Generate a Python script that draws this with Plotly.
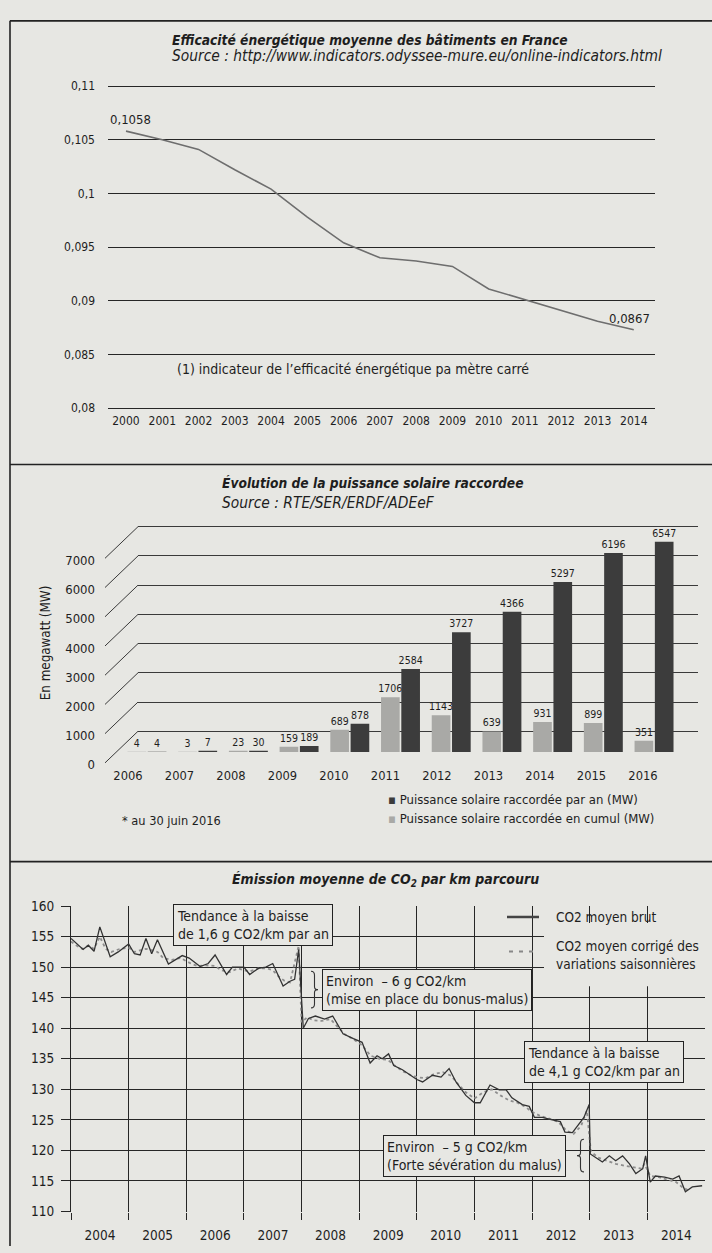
import plotly.graph_objects as go

W, H = 712, 1253
PAPER = '#e7e7e3'
INK = '#1e1e1e'
FONT = "Liberation Sans Narrow, Arial Narrow, DejaVu Sans Condensed, sans-serif"

# ---------------- data: panel 1 ----------------
eff_years = list(range(2000, 2015))
eff_values = [0.1058, 0.1050, 0.1041, 0.1022, 0.1004, 0.0978, 0.0954, 0.0940,
              0.0937, 0.0932, 0.0911, 0.0901, 0.0891, 0.0881, 0.0873]
eff_ticks = [0.08, 0.085, 0.09, 0.095, 0.1, 0.105, 0.11]
eff_ticktext = ['0,08', '0,085', '0,09', '0,095', '0,1', '0,105', '0,11']

# ---------------- data: panel 2 ----------------
solar_years = ['2006', '2007', '2008', '2009', '2010', '2011', '2012', '2013', '2014', '2015', '2016']
solar_annual = [4, 3, 23, 159, 689, 1706, 1143, 639, 931, 899, 351]
solar_cumul = [4, 7, 30, 189, 878, 2584, 3727, 4366, 5297, 6196, 6547]
solar_ticks = [0, 1000, 2000, 3000, 4000, 5000, 6000, 7000]

# ---------------- data: panel 3 ----------------
co2_brut_t = [2004.00, 2004.10, 2004.21, 2004.30, 2004.40, 2004.50, 2004.68, 2004.82, 2005.00, 2005.10,
              2005.20, 2005.30, 2005.40, 2005.50, 2005.69, 2005.93, 2006.05, 2006.24, 2006.38, 2006.50,
              2006.70, 2006.80, 2006.93, 2007.00, 2007.10, 2007.25, 2007.38, 2007.50, 2007.68, 2007.80,
              2007.88, 2007.95, 2008.03, 2008.12, 2008.24, 2008.40, 2008.54, 2008.72, 2008.90, 2009.05,
              2009.12, 2009.19, 2009.31, 2009.40, 2009.51, 2009.60, 2009.75, 2009.89, 2010.00, 2010.10,
              2010.27, 2010.42, 2010.56, 2010.68, 2010.85, 2011.00, 2011.10, 2011.27, 2011.43, 2011.55,
              2011.65, 2011.83, 2011.95, 2012.04, 2012.18, 2012.35, 2012.49, 2012.57, 2012.70, 2012.90,
              2012.99, 2013.01, 2013.10, 2013.22, 2013.34, 2013.45, 2013.57, 2013.69, 2013.80, 2013.92,
              2013.97, 2014.05, 2014.14, 2014.30, 2014.44, 2014.55, 2014.66, 2014.78, 2014.95]
co2_brut = [154.7, 153.8, 152.9, 153.6, 152.6, 156.6, 151.7, 152.5, 153.8, 152.2,
            152.0, 154.7, 152.2, 154.5, 150.5, 151.9, 151.5, 150.1, 150.6, 152.0,
            148.8, 150.0, 150.0, 150.0, 148.8, 149.8, 150.0, 150.6, 146.9, 147.7,
            148.0, 152.9, 140.0, 141.6, 142.0, 141.5, 142.0, 139.1, 138.3, 137.7,
            136.0, 134.3, 135.5, 135.0, 135.8, 133.9, 133.2, 132.3, 131.6, 131.2,
            132.3, 132.0, 133.4, 131.2, 129.0, 127.8, 127.8, 130.7, 129.9, 129.9,
            128.6, 127.5, 127.2, 125.4, 125.4, 125.0, 124.7, 123.0, 122.9, 125.4,
            127.5, 119.4, 118.9, 118.1, 119.1, 118.3, 119.1, 117.8, 116.2, 117.0,
            119.1, 114.8, 115.8, 115.6, 115.3, 115.8, 113.2, 114.0, 114.2]
co2_corr_t = [2004.00, 2004.10, 2004.20, 2004.30, 2004.40, 2004.50, 2004.60, 2004.70, 2004.85, 2005.00,
              2005.10, 2005.20, 2005.30, 2005.40, 2005.50, 2005.60, 2005.75, 2005.90, 2006.00, 2006.10,
              2006.20, 2006.35, 2006.50, 2006.60, 2006.75, 2006.90, 2007.00, 2007.10, 2007.25, 2007.40,
              2007.50, 2007.60, 2007.70, 2007.80, 2007.90, 2007.95, 2008.00, 2008.10, 2008.20, 2008.35,
              2008.50, 2008.60, 2008.75, 2008.90, 2009.05, 2009.20, 2009.35, 2009.50, 2009.60, 2009.75,
              2009.90, 2010.00, 2010.15, 2010.30, 2010.45, 2010.60, 2010.70, 2010.85, 2011.00, 2011.15,
              2011.30, 2011.45, 2011.60, 2011.75, 2011.90, 2012.00, 2012.15, 2012.30, 2012.45, 2012.60,
              2012.72, 2012.85, 2012.95, 2013.02, 2013.15, 2013.30, 2013.45, 2013.60, 2013.75, 2013.90,
              2013.95, 2014.05, 2014.20, 2014.35, 2014.50, 2014.60, 2014.70]
co2_corr = [154.2, 153.5, 153.0, 153.5, 153.0, 155.0, 153.0, 152.5, 153.0, 153.2,
            152.5, 152.8, 153.0, 152.8, 152.5, 151.5, 151.2, 151.5, 151.0, 150.5,
            150.2, 150.3, 150.2, 149.5, 149.2, 149.8, 149.5, 149.3, 149.8, 149.8,
            149.5, 148.5, 147.8, 147.5, 151.5, 153.5, 141.0, 141.8, 141.3, 141.2,
            141.5, 140.5, 139.0, 138.2, 137.2, 135.5, 135.0, 134.8, 134.0, 133.0,
            132.3, 132.0, 131.8, 132.5, 132.8, 132.2, 131.0, 129.5, 128.5, 129.5,
            130.0, 129.0, 128.2, 127.8, 127.0, 126.3, 125.6, 125.2, 124.7, 123.2,
            122.7, 124.0, 126.5, 119.8, 118.8, 118.3, 117.8, 117.5, 117.2, 117.0,
            117.8, 115.8, 115.6, 115.2, 114.8, 114.0, 113.5]
co2_ticks = [110, 115, 120, 125, 130, 135, 140, 145, 150, 155, 160]
co2_year_ticks = list(range(2004, 2015))
co2_year_text = [str(y) for y in co2_year_ticks]


def fx(p):
    return p / W


def fy(p):
    return 1 - p / H


def lin(v, r0, r1, p0, p1):
    return p0 + (v - r0) / (r1 - r0) * (p1 - p0)


fig = go.Figure()

# empty traces so that the axis-only subplots (3D wall grid, front labels) are drawn
for xa, ya in (('x2', 'y2'), ('x2', 'y3'), ('x5', 'y3')):
    fig.add_trace(go.Scatter(x=[], y=[], xaxis=xa, yaxis=ya, showlegend=False,
                             hoverinfo='skip', mode='lines'))

# panel 1 line
fig.add_trace(go.Scatter(x=eff_years, y=eff_values, mode='lines',
                         line=dict(color='#6e6e6e', width=1.6),
                         xaxis='x', yaxis='y', showlegend=False,
                         name='Efficacité énergétique'))

# panel 2 bars
BARFONT = dict(size=10.5, color=INK, family=FONT)
fig.add_trace(go.Bar(x=solar_years, y=solar_annual, name='Puissance solaire raccordée par an (MW)',
                     marker=dict(color='#a9a9a6', line=dict(width=0)),
                     text=[str(v) for v in solar_annual], textposition='outside',
                     textfont=BARFONT, constraintext='none',
                     cliponaxis=False, xaxis='x4', yaxis='y4', showlegend=False))
fig.add_trace(go.Bar(x=solar_years, y=solar_cumul, name='Puissance solaire raccordée en cumul (MW)',
                     marker=dict(color='#3c3c3c', line=dict(width=0)),
                     text=[str(v) for v in solar_cumul], textposition='outside',
                     textfont=BARFONT, constraintext='none',
                     cliponaxis=False, xaxis='x4', yaxis='y4', showlegend=False))

# panel 3 lines
fig.add_trace(go.Scatter(x=co2_corr_t, y=co2_corr, mode='lines',
                         line=dict(color='#8e8e8e', width=1.8, dash='3px,3px'),
                         xaxis='x6', yaxis='y6', showlegend=False,
                         name='CO2 moyen corrigé des variations saisonnières'))
fig.add_trace(go.Scatter(x=co2_brut_t, y=co2_brut, mode='lines',
                         line=dict(color='#333333', width=1.3),
                         xaxis='x6', yaxis='y6', showlegend=False, name='CO2 moyen brut'))

GRID = '#262626'


def tf(size):
    return dict(family=FONT, size=size, color=INK)


fig.update_layout(
    width=W, height=H, margin=dict(l=0, r=0, t=0, b=0),
    paper_bgcolor=PAPER, plot_bgcolor='rgba(0,0,0,0)',
    font=dict(family=FONT, size=13, color=INK),
    barmode='group', bargap=0.2, bargroupgap=0.08,
    showlegend=False,
    # panel 1
    xaxis=dict(domain=[fx(108), fx(655)], range=[1999.504, 2014.585], anchor='y',
               tickvals=eff_years, ticktext=[str(y) for y in eff_years], ticks='',
               showgrid=False, zeroline=False, showline=False, tickfont=tf(12),
               ticklabelstandoff=3),
    yaxis=dict(domain=[fy(406.1), fy(77.9)], range=[0.0799, 0.1101], anchor='x',
               tickvals=eff_ticks, ticktext=eff_ticktext, ticks='', showgrid=True,
               gridcolor=GRID, gridwidth=1.3, zeroline=False, showline=False,
               tickfont=tf(12), ticklabelstandoff=12),
    # panel 2 wall gridlines
    xaxis2=dict(domain=[fx(138), fx(698)], range=[0, 1], anchor='y2', showgrid=False,
                showticklabels=False, zeroline=False, showline=False, ticks=''),
    yaxis2=dict(domain=[fy(733.5), fy(523.5)], range=[-50, 7050], anchor='x2',
                tickvals=solar_ticks, showticklabels=False, ticks='', showgrid=True,
                gridcolor='#3a3a3a', gridwidth=1, zeroline=False, showline=False),
    # panel 2 front tick labels
    yaxis3=dict(domain=[fy(767.5), fy(557.5)], range=[-50, 7050], anchor='x2',
                tickvals=solar_ticks, ticktext=[str(v) for v in solar_ticks], ticks='',
                showgrid=False, zeroline=False, showline=False, tickfont=tf(13),
                ticklabelstandoff=42),
    # panel 2 bars
    xaxis4=dict(domain=[fx(121.6), fx(679.4)], anchor='y4', type='category',
                showgrid=False, showticklabels=False, zeroline=False, showline=False, ticks=''),
    yaxis4=dict(domain=[fy(753), fy(520)], range=[0, 7169], anchor='x4', showgrid=False,
                showticklabels=False, zeroline=False, showline=False, ticks=''),
    # panel 2 year labels
    xaxis5=dict(domain=[fx(102.25), fx(668.75)], range=[-0.5, 10.5], anchor='y3',
                tickvals=list(range(len(solar_years))), ticktext=solar_years, ticks='',
                showgrid=False, zeroline=False, showline=False, tickfont=tf(12.8),
                ticklabelstandoff=0),
    # panel 3
    xaxis6=dict(domain=[fx(71), fx(705)], range=[2004, 2015], anchor='y6',
                tickvals=co2_year_ticks, ticktext=co2_year_text, ticks='outside', ticklen=7,
                tickcolor=GRID, tickwidth=1.2, ticklabelshift=29, ticklabelstandoff=4,
                showgrid=True, gridcolor=GRID, gridwidth=1.2, zeroline=False, showline=False,
                tickfont=tf(13.5)),
    yaxis6=dict(domain=[fy(1218.6), fy(908.4)], range=[109.9, 160.1], anchor='x6',
                tickvals=co2_ticks, ticks='outside', ticklen=9, tickcolor=GRID, tickwidth=1.2,
                showgrid=True, gridcolor=GRID, gridwidth=1.2, zeroline=False,
                showline=True, linecolor=GRID, linewidth=1.2, tickfont=tf(13.5),
                ticklabelstandoff=4),
)

shapes = []
# panel borders
for yy in (13, 462, 864):
    shapes.append(dict(type='line', xref='paper', yref='paper', x0=fx(10), x1=1,
                       y0=fy(yy), y1=fy(yy), line=dict(color='#222', width=1.6)))
shapes.append(dict(type='line', xref='paper', yref='paper', x0=fx(10), x1=fx(10),
                   y0=fy(13), y1=0, line=dict(color='#222', width=1.6)))

# 3D diagonals (front label corner -> back wall gridline)
for v in solar_ticks:
    yf = lin(v, -50, 7050, 767.5, 557.5)
    yb = lin(v, -50, 7050, 733.5, 523.5)
    shapes.append(dict(type='line', xref='paper', yref='paper', x0=fx(105), x1=fx(138),
                       y0=fy(yf - 2), y1=fy(yb), line=dict(color='#3a3a3a', width=1)))

# CO2 legend: hide gridlines behind legend text, then samples
shapes.append(dict(type='rect', xref='paper', yref='paper', x0=fx(544), x1=fx(707),
                   y0=fy(926), y1=fy(990), fillcolor=PAPER, line=dict(width=0), layer='above'))
shapes.append(dict(type='line', xref='paper', yref='paper', x0=fx(507), x1=fx(539),
                   y0=fy(920), y1=fy(920), line=dict(color='#444', width=2.5), layer='above'))
shapes.append(dict(type='line', xref='paper', yref='paper', x0=fx(509), x1=fx(539),
                   y0=fy(955), y1=fy(955), line=dict(color='#888', width=2, dash='4px,6px'),
                   layer='above'))


def brace(x, y0, y1, w, right=True):
    s = 1 if right else -1
    xm = x + s * w / 2
    xt = x + s * w
    ym = (y0 + y1) / 2
    pts = [('M', x, y0), ('Q', xm, y0, xm, y0 + 4), ('L', xm, ym - 3),
           ('Q', xm, ym, xt, ym), ('Q', xm, ym, xm, ym + 3), ('L', xm, y1 - 4),
           ('Q', xm, y1, x, y1)]
    out = []
    for p in pts:
        cmd = p[0]
        coords = p[1:]
        cs = []
        for i in range(0, len(coords), 2):
            cs.append(f"{fx(coords[i]):.5f},{fy(coords[i + 1]):.5f}")
        out.append(cmd + ' ' + ' '.join(cs))
    return ' '.join(out)


shapes.append(dict(type='path', xref='paper', yref='paper', path=brace(311, 975, 1012, 7, True),
                   line=dict(color='#333', width=1.1), layer='above'))
shapes.append(dict(type='path', xref='paper', yref='paper', path=brace(584, 1145, 1178, 7, False),
                   line=dict(color='#333', width=1.1), layer='above'))

fig.update_layout(shapes=shapes)

ann = []


def txt(x, y, s, size=15, xanchor='left', yanchor='middle', **kw):
    d = dict(x=fx(x), y=fy(y), xref='paper', yref='paper', text=s, showarrow=False,
             xanchor=xanchor, yanchor=yanchor, font=dict(family=FONT, size=size, color=INK),
             align='left')
    d.update(kw)
    ann.append(d)


# panel 1 texts
txt(170, 32, '<b><i>Efficacité énergétique moyenne des bâtiments en France</i></b>', 13.7)
txt(170, 49, '<i>Source : http://www.indicators.odyssee-mure.eu/online-indicators.html</i>', 15.4)
txt(108, 113, '0,1058', 13)
txt(629, 314, '0,0867', 13, xanchor='center')
txt(175, 365, "(1) indicateur de l’efficacité énergétique pa mètre carré", 14)

# panel 2 texts
txt(220, 481, '<b><i>Évolution de la puissance solaire raccordee</i></b>', 13.7)
txt(220, 501, '<i>Source : RTE/SER/ERDF/ADEeF</i>', 15.4)
ann.append(dict(x=fx(45), y=fy(643), xref='paper', yref='paper', text='En megawatt (MW)',
                showarrow=False, textangle=-90, font=dict(family=FONT, size=13.3, color=INK),
                xanchor='center', yanchor='middle'))
txt(386, 801, "<span style='color:#3c3c3c'>▪</span> Puissance solaire raccordée par an (MW)", 13)
txt(386, 820, "<span style='color:#a9a9a6'>▪</span> Puissance solaire raccordée en cumul (MW)", 13)
txt(120, 822, '* au 30 juin 2016', 12.7)

# panel 3 texts
txt(230, 883, '<b><i>Émission moyenne de CO<sub>2</sub> par km parcouru</i></b>', 14)
txt(554, 920, 'CO2 moyen brut', 13.5)
txt(554, 958, 'CO2 moyen corrigé des<br>variations saisonnières', 13.5)

box = dict(bordercolor='#222', borderwidth=1, borderpad=3, bgcolor=PAPER)
txt(173, 907, 'Tendance à la baisse<br>de 1,6 g CO2/km par an', 14, yanchor='top', **box)
txt(322, 973, 'Environ\u00a0 – 6 g CO2/km<br>(mise en place du bonus-malus)', 14, yanchor='top', **box)
txt(524, 1046, 'Tendance à la baisse<br>de 4,1 g CO2/km par an', 14, yanchor='top', **box)
txt(383, 1141, 'Environ\u00a0 – 5 g CO2/km<br>(Forte sévération du malus)', 14, yanchor='top', **box)

fig.update_layout(annotations=ann)

fig.write_html('out.html')
